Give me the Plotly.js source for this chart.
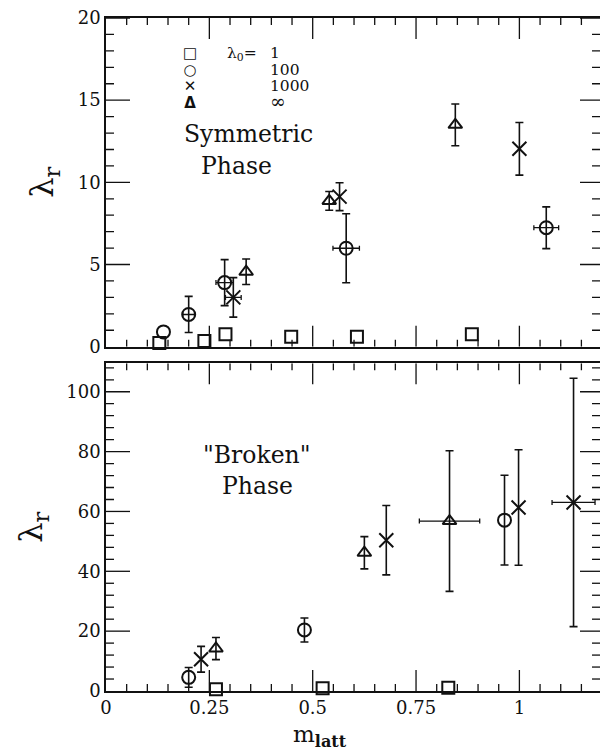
<!DOCTYPE html>
<html>
<head>
<meta charset="utf-8">
<script src="https://cdn.plot.ly/plotly-3.0.1.min.js"></script>
<style>
  html, body { margin: 0; padding: 0; background: #fff; }
  #chart { width: 600px; height: 754px; }
</style>
</head>
<body>
<div id="chart"></div>
<script>
// ---- Symmetric phase (upper panel) ----
const symSquareX = [0.129, 0.238, 0.289, 0.448, 0.607, 0.885];
const symSquareY = [0.23, 0.35, 0.76, 0.60, 0.60, 0.76];

const symCircleX = [0.139, 0.200, 0.287, 0.581, 1.065];
const symCircleY = [0.90, 1.96, 3.90, 5.99, 7.24];
const symCircleErrY = [null, 1.10, 1.40, 2.10, 1.27];
const symCircleErrX = [null, 0.014, 0.021, 0.032, 0.030];

const symCrossX = [0.308, 0.565, 1.000];
const symCrossY = [3.00, 9.13, 12.04];
const symCrossErrY = [1.20, 0.85, 1.60];
const symCrossErrX = [0.019, null, null];

const symTriX = [0.339, 0.540, 0.845];
const symTriY = [4.56, 8.87, 13.50];
const symTriErrY = [0.78, 0.57, 1.27];

// ---- "Broken" phase (lower panel) ----
const brkSquareX = [0.266, 0.524, 0.828];
const brkSquareY = [0.6, 0.9, 1.1];

const brkCircleX = [0.200, 0.480, 0.964];
const brkCircleY = [4.56, 20.4, 57.1];
const brkCircleErrY = [3.3, 4.0, 15.0];

const brkCrossX = [0.230, 0.678, 0.998, 1.131];
const brkCrossY = [10.6, 50.4, 61.3, 63.0];
const brkCrossErrY = [4.3, 11.6, 19.3, 41.5];
const brkCrossErrX = [null, null, null, 0.052];

const brkTriX = [0.266, 0.625, 0.831];
const brkTriY = [14.2, 46.2, 56.8];
const brkTriErrY = [3.7, 5.4, 23.5];
const brkTriErrX = [null, null, 0.073];

// ---- key labels ----
const lambda0Symbols = ['□', '○', '✕', 'Δ'];
const lambda0Values = ['1', '100', '1000', '∞'];

const SERIF = 'DejaVu Serif, Liberation Serif, serif';
const INK = '#111';
const X_RANGE = [0, 1.195];
const SYM_RANGE = [0, 20];
const BRK_RANGE = [0, 109.5];
const TOP_DOMAIN = [0.5116, 1];
const BOT_DOMAIN = [0, 0.4869];

const W = 600, H = 754;
const MARGIN = { l: 106, r: 0, t: 18, b: 63, pad: 0 };
const PLOT_W = W - MARGIN.l - MARGIN.r;
const PLOT_H = H - MARGIN.t - MARGIN.b;

// missing error entries become NaN so no bar or cap is drawn
const err = arr => arr.map(v => (v === null ? NaN : v));

function series(x, y, symbol, size, axes, errY, errX) {
  const t = {
    type: 'scatter', mode: 'markers', x: x, y: y,
    xaxis: axes[0], yaxis: axes[1], showlegend: false, hoverinfo: 'x+y',
    marker: { symbol: symbol, size: size, color: INK, line: { color: INK, width: 2 } },
    cliponaxis: false
  };
  if (errY) t.error_y = { type: 'data', array: err(errY), visible: true,
                          color: INK, thickness: 1.6, width: 4 };
  if (errX) t.error_x = { type: 'data', array: err(errX), visible: true,
                          color: INK, thickness: 1.3, width: 2.5 };
  return t;
}

// inward tick marks on all four sides of a panel, as one line trace:
// long at labelled values, short at the subdivisions in between
function tickTrace(axes, yRange, domain, yStep) {
  const pxPerX = PLOT_W / (X_RANGE[1] - X_RANGE[0]);
  const pxPerY = PLOT_H * (domain[1] - domain[0]) / (yRange[1] - yRange[0]);
  const xs = [], ys = [];
  const xStep = 0.25, sub = 5;
  const nx = Math.floor(X_RANGE[1] / (xStep / sub) + 1e-6);
  for (let i = 1; i <= nx; i++) {
    const v = i * xStep / sub;
    const len = (i % sub === 0 ? 21 : 7) / pxPerY;
    xs.push(v, v, null, v, v, null);
    ys.push(yRange[0], yRange[0] + len, null, yRange[1], yRange[1] - len, null);
  }
  const ny = Math.floor(yRange[1] / (yStep / sub) + 1e-6);
  for (let j = 1; j <= ny; j++) {
    const v = j * yStep / sub;
    const major = j % sub === 0;
    const lenL = (major ? 24 : 8) / pxPerX;
    const lenR = (major ? 20 : 8) / pxPerX;
    xs.push(X_RANGE[0], X_RANGE[0] + lenL, null, X_RANGE[1], X_RANGE[1] - lenR, null);
    ys.push(v, v, null, v, v, null);
  }
  return { type: 'scatter', mode: 'lines', x: xs, y: ys, xaxis: axes[0], yaxis: axes[1],
           line: { color: INK, width: 1.3 }, connectgaps: false,
           hoverinfo: 'skip', showlegend: false, cliponaxis: false };
}

const TOP = ['x2', 'y2'];
const BOT = ['x', 'y'];

const data = [
  tickTrace(TOP, SYM_RANGE, TOP_DOMAIN, 5),
  tickTrace(BOT, BRK_RANGE, BOT_DOMAIN, 20),
  series(symSquareX, symSquareY, 'square-open', 12, TOP),
  series(symCircleX, symCircleY, 'circle-open', 13, TOP, symCircleErrY, symCircleErrX),
  series(symCrossX, symCrossY, 'x-thin-open', 14, TOP, symCrossErrY, symCrossErrX),
  series(symTriX, symTriY, 'triangle-up-open', 12, TOP, symTriErrY),
  series(brkSquareX, brkSquareY, 'square-open', 12, BOT),
  series(brkCircleX, brkCircleY, 'circle-open', 13, BOT, brkCircleErrY),
  series(brkCrossX, brkCrossY, 'x-thin-open', 14, BOT, brkCrossErrY, brkCrossErrX),
  series(brkTriX, brkTriY, 'triangle-up-open', 12, BOT, brkTriErrY, brkTriErrX)
];

const tickFont = { family: SERIF, size: 18, color: INK };

function xAxis(anchor, labels) {
  return {
    anchor: anchor, domain: [0, 1], range: X_RANGE,
    dtick: 0.25, showticklabels: labels, tickfont: tickFont, ticks: '',
    showline: true, linecolor: INK, linewidth: 1.6, mirror: true,
    showgrid: false, zeroline: false
  };
}

function yAxis(anchor, domain, range, step) {
  return {
    anchor: anchor, domain: domain, range: range,
    dtick: step, tickfont: tickFont, ticks: '',
    showline: true, linecolor: INK, linewidth: 1.6, mirror: true,
    showgrid: false, zeroline: false,
    title: { text: 'λ<sub>r</sub>', font: { family: SERIF, size: 32, color: INK }, standoff: 14 }
  };
}

const annotations = [];
// key for the λ0 values: one column of symbols, one of values
const KEY_TOP = 18.55;
annotations.push({ xref: 'x2', yref: 'y2', x: 0.203, y: KEY_TOP,
  text: lambda0Symbols.map(s => '<span style="font-size:15px"><b>' + s + '</b></span>').join('<br>'),
  showarrow: false, xanchor: 'center', yanchor: 'top', align: 'center',
  font: { family: 'DejaVu Sans, sans-serif', size: 12.7, color: INK } });
annotations.push({ xref: 'x2', yref: 'y2', x: 0.392, y: KEY_TOP,
  text: lambda0Values.map((v, i) => '<span style="font-size:' + (i === 3 ? 19 : 15.5) + 'px">' + v + '</span>').join('<br>'),
  showarrow: false, xanchor: 'left', yanchor: 'top', align: 'left',
  font: { family: SERIF, size: 12.7, color: INK } });
annotations.push({ xref: 'x2', yref: 'y2', x: 0.288, y: KEY_TOP,
  text: '<span style="font-size:15.5px">λ<sub>0</sub>=</span>',
  showarrow: false, xanchor: 'left', yanchor: 'top',
  font: { family: SERIF, size: 12.7, color: INK } });

// phase labels
const phaseFont = { family: SERIF, size: 23.5, color: INK };
annotations.push({ xref: 'x2', yref: 'y2', x: 0.345, y: 12.95, text: 'Symmetric',
  showarrow: false, xanchor: 'center', yanchor: 'middle', font: phaseFont });
annotations.push({ xref: 'x2', yref: 'y2', x: 0.316, y: 11.0, text: 'Phase',
  showarrow: false, xanchor: 'center', yanchor: 'middle', font: phaseFont });
annotations.push({ xref: 'x', yref: 'y', x: 0.365, y: 78.7, text: '"Broken"',
  showarrow: false, xanchor: 'center', yanchor: 'middle', font: phaseFont });
annotations.push({ xref: 'x', yref: 'y', x: 0.367, y: 68.6, text: 'Phase',
  showarrow: false, xanchor: 'center', yanchor: 'middle', font: phaseFont });

// x-axis title
annotations.push({ xref: 'paper', yref: 'paper', x: 0.433, y: -0.0925,
  text: 'm<sub><b>latt</b></sub>', showarrow: false, xanchor: 'center', yanchor: 'bottom',
  font: { family: SERIF, size: 23, color: INK } });

const layout = {
  width: W, height: H,
  margin: MARGIN,
  paper_bgcolor: '#fff', plot_bgcolor: '#fff',
  showlegend: false,
  xaxis: xAxis('y', true),
  xaxis2: Object.assign(xAxis('y2', false), { matches: 'x' }),
  yaxis: yAxis('x', BOT_DOMAIN, BRK_RANGE, 20),
  yaxis2: yAxis('x2', TOP_DOMAIN, SYM_RANGE, 5),
  annotations: annotations
};

Plotly.newPlot('chart', data, layout, { displayModeBar: false });
</script>
</body>
</html>
